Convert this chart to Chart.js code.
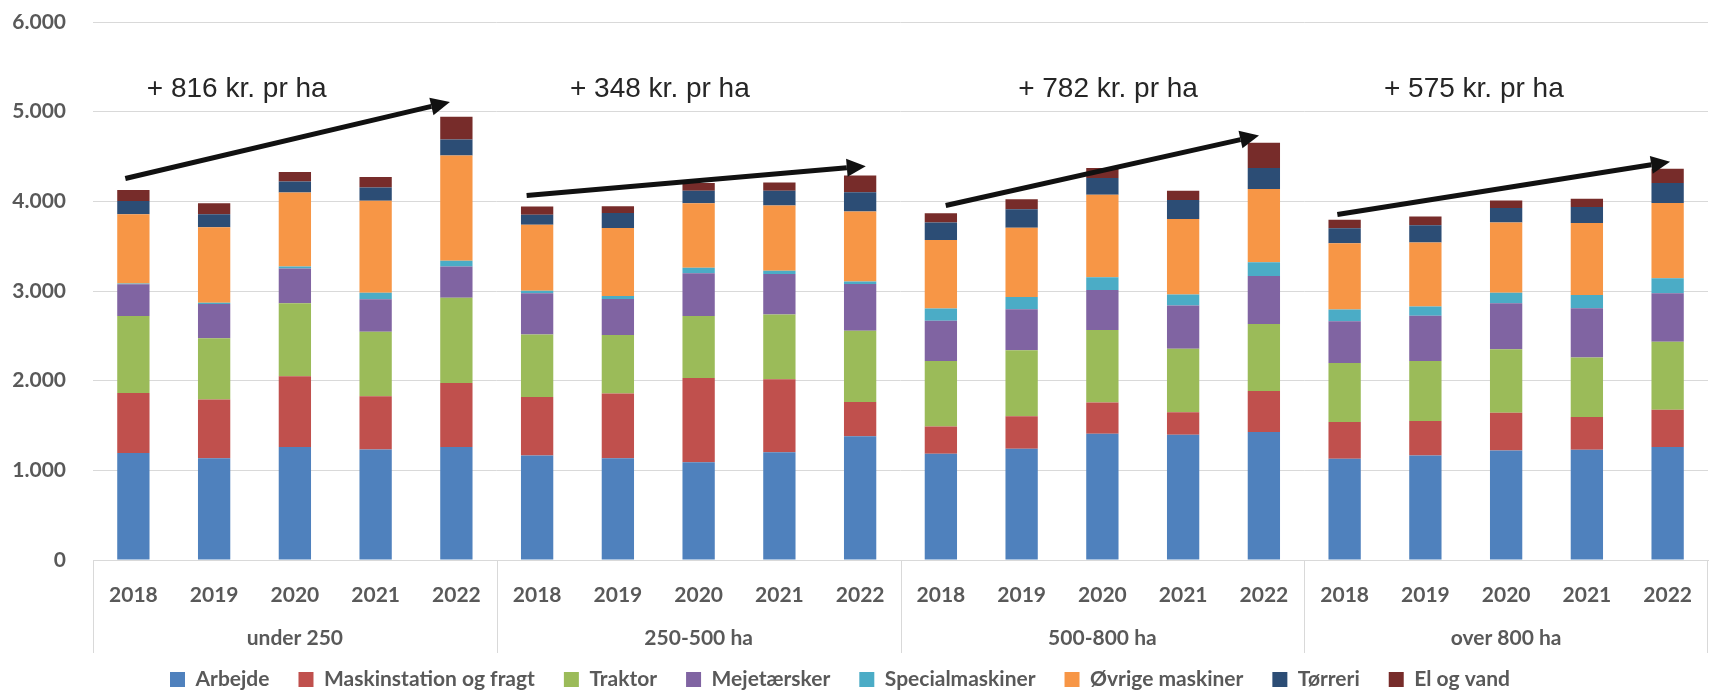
<!DOCTYPE html>
<html>
<head>
<meta charset="utf-8">
<script src="https://cdn.jsdelivr.net/npm/chart.js@4"></script>
<style>
  html, body { margin: 0; padding: 0; background: #fff; }
</style>
</head>
<body>
<canvas id="costChart" width="1709" height="695"></canvas>
<script>
const years = ['2018', '2019', '2020', '2021', '2022'];
const groups = ['under 250', '250-500 ha', '500-800 ha', 'over 800 ha'];
const labels = groups.flatMap(() => years);

// kr. pr ha
const arbejde  = [1192, 1136, 1259, 1233, 1259, 1166, 1136, 1091, 1203, 1379, 1185, 1241, 1409, 1398, 1427, 1129, 1166, 1222, 1230, 1259];
const maskin   = [671, 653, 791, 593, 716, 652, 720, 939, 813, 384, 305, 362, 347, 250, 458, 409, 384, 421, 365, 418];
const traktor  = [858, 685, 813, 719, 950, 698, 652, 690, 723, 794, 730, 735, 808, 709, 746, 660, 668, 708, 664, 756];
const mejet    = [354, 380, 387, 362, 347, 458, 403, 477, 451, 522, 447, 458, 447, 481, 537, 466, 507, 511, 548, 541];
const special  = [10, 15, 22, 74, 64, 29, 34, 63, 37, 26, 139, 138, 142, 123, 153, 131, 101, 119, 149, 168];
const ovrige   = [770, 843, 827, 1025, 1174, 735, 757, 720, 727, 783, 764, 772, 920, 842, 816, 738, 714, 783, 802, 839];
const torreri  = [149, 145, 123, 149, 179, 112, 168, 138, 164, 212, 193, 205, 187, 212, 235, 168, 193, 161, 179, 224];
const elVand   = [123, 123, 105, 116, 254, 93, 74, 86, 93, 187, 105, 112, 112, 104, 280, 93, 97, 85, 93, 157];

// arrows and their texts (category index, value)
const arrowFrom = [[-0.1, 4255], [4.87, 4065], [10.06, 3953], [14.91, 3853]];
const arrowTo   = [[3.92, 5107], [9.07, 4392], [13.94, 4735], [19.03, 4441]];
const arrowText = ['+ 816 kr. pr ha', '+ 348 kr. pr ha', '+ 782 kr. pr ha', '+ 575 kr. pr ha'];
const textPos   = [[1.28, 5250], [6.52, 5250], [12.07, 5250], [16.6, 5250]];

const gray = '#595959';
const tickFont = {family: 'Lato', size: 21, weight: 'bold'};

function thousands(v) {
    return String(v).replace(/\B(?=(\d{3})+(?!\d))/g, '.');
}

function drawArrow(ctx, x1, y1, x2, y2) {
    const ang = Math.atan2(y2 - y1, x2 - x1);
    const head = 19, half = 9;
    const bx = x2 - head * Math.cos(ang), by = y2 - head * Math.sin(ang);
    ctx.beginPath();
    ctx.moveTo(x1, y1);
    ctx.lineTo(bx, by);
    ctx.stroke();
    ctx.beginPath();
    ctx.moveTo(x2, y2);
    ctx.lineTo(bx - half * Math.sin(ang), by + half * Math.cos(ang));
    ctx.lineTo(bx + half * Math.sin(ang), by - half * Math.cos(ang));
    ctx.closePath();
    ctx.fill();
}

const arrows = {
    id: 'arrows',
    afterDatasetsDraw(chart) {
        const {ctx, scales: {x, y}} = chart;
        ctx.save();
        ctx.strokeStyle = '#111';
        ctx.fillStyle = '#111';
        ctx.lineWidth = 5;
        arrowFrom.forEach((a, i) => {
            const b = arrowTo[i];
            drawArrow(ctx, x.getPixelForValue(a[0]), y.getPixelForValue(a[1]),
                      x.getPixelForValue(b[0]), y.getPixelForValue(b[1]));
        });
        ctx.fillStyle = '#262626';
        ctx.font = '28px "Liberation Sans"';
        ctx.textAlign = 'center';
        ctx.textBaseline = 'middle';
        arrowText.forEach((t, i) => {
            ctx.fillText(t, x.getPixelForValue(textPos[i][0]), y.getPixelForValue(textPos[i][1]));
        });
        ctx.restore();
    }
};

const groupAxis = {
    id: 'groupAxis',
    afterDraw(chart) {
        const {ctx, scales: {x}} = chart;
        const bottom = chart.chartArea.bottom;
        const step = x.getPixelForValue(1) - x.getPixelForValue(0);
        ctx.save();
        ctx.strokeStyle = '#d9d9d9';
        ctx.lineWidth = 1;
        for (let g = 0; g <= groups.length; g++) {
            let px = Math.round(x.getPixelForValue(g * years.length) - step / 2) + 0.5;
            px = Math.min(px, chart.width - 1.5);
            ctx.beginPath();
            ctx.moveTo(px, bottom);
            ctx.lineTo(px, bottom + 93);
            ctx.stroke();
        }
        ctx.fillStyle = gray;
        ctx.font = 'bold 21px Lato';
        ctx.textAlign = 'center';
        ctx.textBaseline = 'middle';
        groups.forEach((g, i) => {
            ctx.fillText(g, x.getPixelForValue(i * years.length + 2), bottom + 78);
        });
        ctx.restore();
    }
};

// legend sits a bit lower and left of where chart.js would put it
const legendFit = {
    id: 'legendFit',
    beforeInit(chart) {
        const legend = chart.legend;
        const origFit = legend.fit;
        legend.fit = function () {
            origFit.call(this);
            this.height = 55;
        };
        const origDraw = legend.draw;
        legend.draw = function () {
            this.ctx.save();
            this.ctx.translate(-14, 0);
            origDraw.call(this);
            this.ctx.restore();
        };
    }
};

const series = [
    ['Arbejde', arbejde, '#4f81bd'],
    ['Maskinstation og fragt', maskin, '#c0504d'],
    ['Traktor', traktor, '#9bbb59'],
    ['Mejetærsker', mejet, '#8064a2'],
    ['Specialmaskiner', special, '#4bacc6'],
    ['Øvrige maskiner', ovrige, '#f79646'],
    ['Tørreri', torreri, '#2c4d75'],
    ['El og vand', elVand, '#772c2a']
];

new Chart(document.getElementById('costChart'), {
    type: 'bar',
    data: {
        labels: labels,
        datasets: series.map(([name, vals, col]) => ({
            label: name,
            data: vals,
            backgroundColor: col,
            borderWidth: 0,
            barPercentage: 0.4,
            categoryPercentage: 1
        }))
    },
    options: {
        responsive: false,
        animation: false,
        devicePixelRatio: 1,
        layout: {padding: {top: 22, right: 1, left: 0, bottom: 0}},
        plugins: {
            tooltip: {enabled: false},
            legend: {
                position: 'bottom',
                labels: {
                    boxWidth: 15,
                    boxHeight: 15,
                    padding: 29,
                    color: gray,
                    font: tickFont
                }
            }
        },
        scales: {
            x: {
                stacked: true,
                grid: {display: false},
                border: {color: '#d9d9d9'},
                ticks: {color: gray, font: tickFont, padding: 15, maxRotation: 0, autoSkip: false},
                afterFit(scale) { scale.height = 80; }
            },
            y: {
                stacked: true,
                min: 0,
                max: 6000,
                border: {display: false},
                grid: {color: '#d9d9d9', drawTicks: true, tickLength: 27, tickColor: 'rgba(0,0,0,0)'},
                ticks: {stepSize: 1000, color: gray, font: tickFont, padding: 0,
                        callback: v => thousands(v)},
                afterFit(scale) { scale.width = 93; }
            }
        }
    },
    plugins: [arrows, groupAxis, legendFit]
});
</script>
</body>
</html>
